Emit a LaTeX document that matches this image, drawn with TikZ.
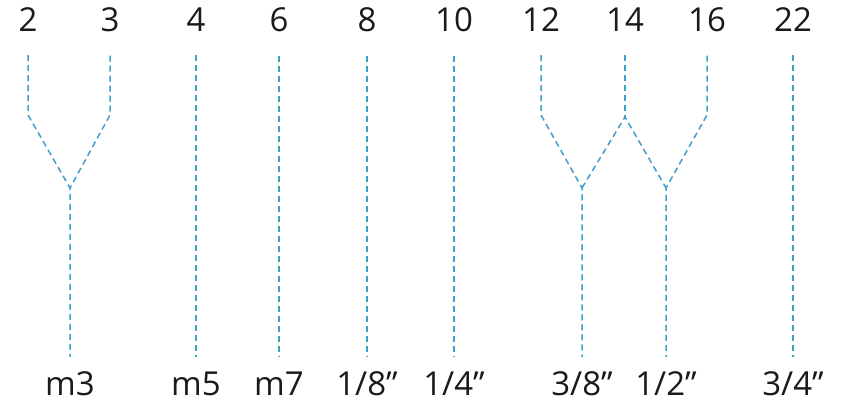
\documentclass[tikz,border=0pt]{standalone}
\usepackage{fontspec}
\setmainfont{Open Sans}
\usepackage{xcolor}
\definecolor{Wire}{HTML}{3FA0CC}
\definecolor{Ink}{HTML}{1A1A1A}
\tikzset{
 gauge/.style={font=\fontsize{33}{38}\selectfont, text=Ink, inner sep=2pt, anchor=base},
 wire/.style={draw=Wire, line width=1.5pt, dash pattern=on 6pt off 4pt},
 topwire/.style={wire, shorten <=21pt},
 fullwire/.style={wire, shorten <=21pt, shorten >=12pt}
}

\begin{document}
\begin{tikzpicture}[x=1pt,y=-1pt]
\useasboundingbox (0,0) rectangle (847,412);
% top row
\node[gauge] (t2) at (28,32) {2};
\node[gauge] (t3) at (110,32) {3};
\node[gauge] (t4) at (196,32) {4};
\node[gauge] (t6) at (279,32) {6};
\node[gauge] (t8) at (367,32) {8};
\node[gauge] (t10) at (454,32) {10};
\node[gauge] (t12) at (541,32) {12};
\node[gauge] (t14) at (625,32) {14};
\node[gauge] (t16) at (707,32) {16};
\node[gauge] (t22) at (793,32) {22};
% bottom row
\node[gauge] (m3) at (70,395) {m3};
\node[gauge] (m5) at (196,395) {m5};
\node[gauge] (m7) at (279,395) {m7};
\node[gauge] (in18) at (367,395) {1/8”};
\node[gauge] (in14) at (454,395) {1/4”};
\node[gauge] (in38) at (582,395) {3/8”};
\node[gauge] (in12) at (666,395) {1/2”};
\node[gauge] (in34) at (793,395) {3/4”};
% bends and joins
\coordinate (k2) at (28,115);
\coordinate (k3) at (110,115);
\coordinate (k12) at (541,115);
\coordinate (k14) at (625,117);
\coordinate (k16) at (707,115);
\coordinate (j3) at (70,188);
\coordinate (j38) at (582,188);
\coordinate (j12) at (666,188);
% lines
\draw[fullwire] (t2) -- (k2) -- (j3) -- (m3);
\draw[topwire] (t3) -- (k3) -- (j3);
\draw[fullwire] (t4) -- (m5);
\draw[fullwire] (t6) -- (m7);
\draw[fullwire] (t8) -- (in18);
\draw[fullwire] (t10) -- (in14);
\draw[fullwire] (t12) -- (k12) -- (j38) -- (in38);
\draw[topwire] (t14) -- (k14);
\draw[wire] (j38) -- (k14) -- (j12);
\draw[fullwire] (t16) -- (k16) -- (j12) -- (in12);
\draw[fullwire] (t22) -- (in34);
\end{tikzpicture}
\end{document}
